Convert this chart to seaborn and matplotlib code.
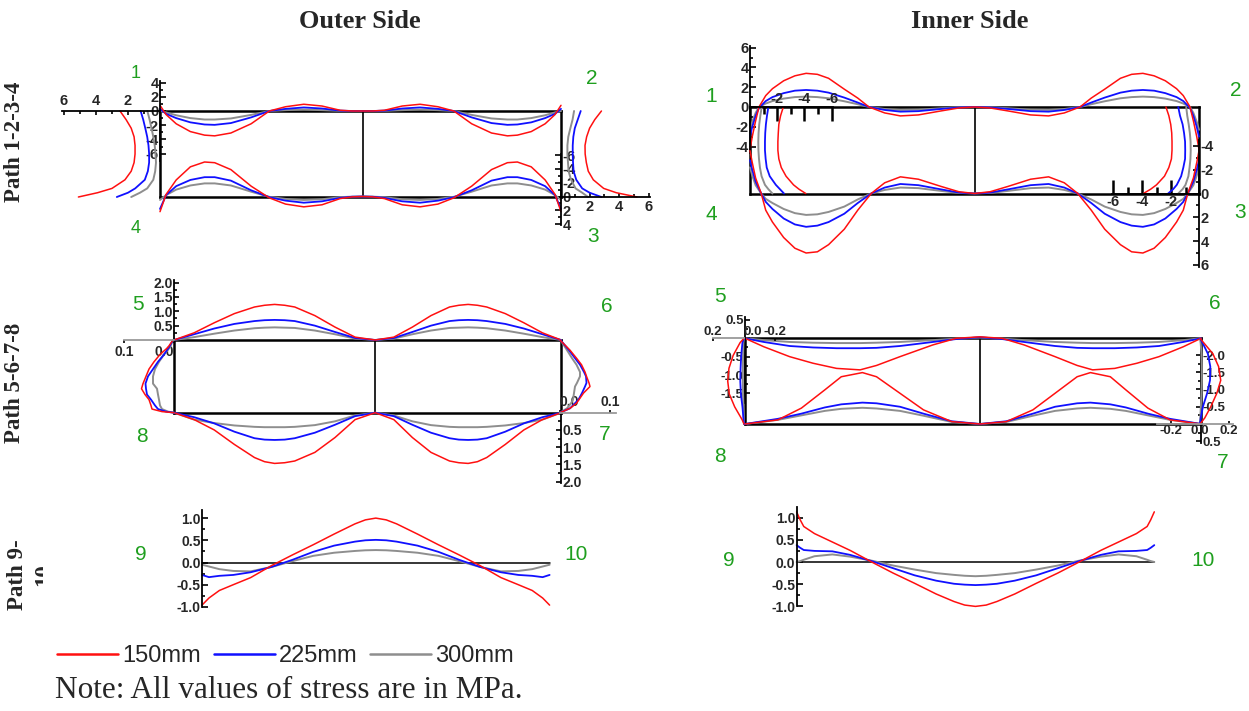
import numpy as np
import matplotlib
matplotlib.use("Agg")
import matplotlib.pyplot as plt
from matplotlib.lines import Line2D
import seaborn as sns

sns.set_style("white")
plt.rcParams["font.family"] = ["Liberation Sans", "DejaVu Sans"]
plt.rcParams["font.weight"] = "bold"

W, H = 1249, 711

LOADS = ["150mm", "225mm", "300mm"]
COLORS = {"150mm": "#ff1010", "225mm": "#1010ff", "300mm": "#8e8e8e"}
WIDTHS = {"150mm": 1.1, "225mm": 1.3, "300mm": 1.4}

# ---------------- Outer side, path 1-2-3-4 (MPa) ----------------
# long sides: positions from the corner to mid-span (0..1); each long side is symmetric
A_LONG_H = [0, .03, .08, .15, .22, .27, .35, .45, .54, .62, .71, .80, .89, .95, 1.0]
A_TOP = {
    "150mm": [0.8, -0.5, -1.8, -2.9, -3.4, -3.5, -3.1, -1.8, 0.0, 0.6, 0.95, 0.7, 0.1, 0.0, 0.0],
    "225mm": [0.3, -0.4, -1.0, -1.6, -1.9, -1.95, -1.7, -0.9, 0.0, 0.3, 0.5, 0.35, 0.05, 0.0, 0.0],
    "300mm": [0.0, -0.2, -0.6, -1.0, -1.2, -1.2, -1.05, -0.55, 0.0, 0.12, 0.2, 0.12, 0.02, 0.0, 0.0],
}
A_BOT = {
    "150mm": [2.2, -0.3, -2.4, -4.3, -5.0, -4.9, -3.9, -1.5, 0.2, 1.1, 1.5, 1.2, 0.3, 0.05, 0.0],
    "225mm": [1.8, -0.2, -1.5, -2.4, -2.8, -2.8, -2.3, -0.9, 0.1, 0.6, 0.9, 0.7, 0.2, 0.03, 0.0],
    "300mm": [0.5, -0.2, -1.0, -1.6, -1.9, -1.9, -1.6, -0.7, 0.05, 0.35, 0.5, 0.4, 0.1, 0.02, 0.0],
}
# short sides: positions from the upper corner to the lower corner
A_SHORT_P = [0, .1, .2, .3, .4, .5, .6, .7, .8, .9, .95, 1.0]
A_LEFT = {
    "150mm": [2.5, 2.12, 1.8, 1.62, 1.56, 1.56, 1.62, 1.8, 2.19, 3.0, 3.9, 5.1],
    "225mm": [1.21, 1.05, 0.92, 0.8, 0.72, 0.68, 0.68, 0.76, 0.95, 1.55, 2.0, 2.7],
    "300mm": [0.79, 0.65, 0.53, 0.42, 0.33, 0.28, 0.25, 0.3, 0.42, 0.8, 1.25, 1.8],
}
A_RIGHT = {
    "150mm": [2.8, 2.35, 2.0, 1.8, 1.69, 1.7, 1.78, 1.91, 2.25, 2.95, 3.8, 5.2],
    "225mm": [1.4, 1.2, 1.0, 0.9, 0.86, 0.86, 0.88, 0.92, 1.1, 1.5, 2.0, 2.8],
    "300mm": [0.95, 0.85, 0.7, 0.56, 0.5, 0.5, 0.54, 0.58, 0.75, 1.05, 1.5, 1.9],
}

# ---------------- Inner side, path 1-2-3-4 (MPa) ----------------
B_LONG_H = [0, .01, .025, .04, .07, .1, .15, .2, .25, .3, .35, .42, .48, .53, .6, .67, .75, .85, .93, 1.0]
B_TOP = {
    "150mm": [-4.3, -3.0, -1.4, 0.0, 1.15, 1.85, 2.65, 3.15, 3.4, 3.3, 2.9, 1.8, 0.9, 0.0, -0.6, -0.9, -0.8, -0.4, -0.1, 0.0],
    "225mm": [-3.0, -2.0, -0.9, -0.1, 0.6, 1.0, 1.4, 1.65, 1.72, 1.65, 1.45, 0.95, 0.45, 0.0, -0.3, -0.47, -0.42, -0.2, -0.05, 0.0],
    "300mm": [-2.3, -1.5, -0.6, 0.0, 0.35, 0.6, 0.85, 1.0, 1.05, 1.0, 0.88, 0.58, 0.28, 0.0, -0.2, -0.3, -0.27, -0.13, -0.03, 0.0],
}
B_BOT_H = [0, .01, .025, .05, .07, .1, .15, .2, .25, .3, .35, .42, .48, .54, .6, .67, .75, .85, .93, 1.0]
B_BOT = {
    "150mm": [-3.6, -2.6, -1.3, 0.0, 1.4, 2.4, 3.7, 4.6, 5.0, 4.9, 4.3, 3.0, 1.4, 0.0, -0.9, -1.4, -1.2, -0.6, -0.15, 0.0],
    "225mm": [-2.8, -2.0, -1.0, 0.0, 0.7, 1.3, 2.1, 2.6, 2.8, 2.7, 2.4, 1.7, 0.8, 0.0, -0.5, -0.8, -0.7, -0.35, -0.08, 0.0],
    "300mm": [-2.2, -1.5, -0.7, 0.0, 0.45, 0.8, 1.3, 1.65, 1.8, 1.75, 1.55, 1.1, 0.5, 0.0, -0.3, -0.5, -0.45, -0.22, -0.05, 0.0],
}
B_SHORT_P = [0, .1, .2, .3, .4, .5, .6, .7, .8, .9, .95, 1.0]
B_LEFT = {
    "150mm": [-2.45, -2.25, -2.12, -2.08, -2.05, -2.05, -2.12, -2.3, -2.65, -3.2, -3.6, -4.1],
    "225mm": [-1.35, -1.25, -1.17, -1.12, -1.1, -1.1, -1.15, -1.23, -1.45, -1.9, -2.2, -2.5],
    "300mm": [-0.86, -0.76, -0.68, -0.63, -0.61, -0.62, -0.66, -0.73, -0.85, -1.1, -1.35, -1.65],
}
B_RIGHT = {
    "150mm": [-2.35, -2.15, -2.02, -1.95, -1.93, -1.93, -1.97, -2.15, -2.45, -3.0, -3.4, -3.9],
    "225mm": [-1.5, -1.38, -1.2, -1.1, -1.03, -1.02, -1.03, -1.15, -1.3, -1.6, -1.85, -2.2],
    "300mm": [-0.95, -0.88, -0.78, -0.7, -0.65, -0.64, -0.66, -0.72, -0.8, -1.0, -1.2, -1.5],
}

# ---------------- Outer side, path 5-6-7-8 (MPa) ----------------
C_LONG_H = [0, .1, .2, .3, .4, .45, .5, .55, .6, .7, .8, .9, 1.0]
C_TOP = {
    "150mm": [0.0, 0.25, 0.6, 0.92, 1.15, 1.21, 1.24, 1.21, 1.15, 0.85, 0.45, 0.1, 0.0],
    "225mm": [0.0, 0.2, 0.4, 0.56, 0.66, 0.69, 0.7, 0.69, 0.66, 0.5, 0.28, 0.07, 0.0],
    "300mm": [0.0, 0.1, 0.22, 0.33, 0.41, 0.43, 0.44, 0.43, 0.42, 0.33, 0.2, 0.05, 0.0],
}
C_BOT = {
    "150mm": [0.0, 0.2, 0.5, 0.92, 1.3, 1.42, 1.47, 1.45, 1.4, 1.15, 0.72, 0.2, 0.0],
    "225mm": [0.0, 0.13, 0.31, 0.55, 0.74, 0.78, 0.79, 0.78, 0.74, 0.58, 0.35, 0.1, 0.0],
    "300mm": [0.0, 0.2, 0.3, 0.37, 0.41, 0.42, 0.42, 0.42, 0.41, 0.36, 0.25, 0.08, 0.0],
}
C_LEFT_P = [0, .1, .2, .3, .4, .5, .6, .67, .75, .82, .9, .95, .985, 1.0]
C_LEFT = {
    "150mm": [0.002, 0.012, 0.028, 0.04, 0.05, 0.056, 0.062, 0.065, 0.058, 0.05, 0.046, 0.044, 0.024, 0.0],
    "225mm": [0.002, 0.01, 0.02, 0.032, 0.042, 0.052, 0.057, 0.056, 0.054, 0.046, 0.038, 0.032, 0.016, 0.0],
    "300mm": [0.002, 0.008, 0.02, 0.03, 0.038, 0.042, 0.042, 0.034, 0.032, 0.03, 0.028, 0.024, 0.012, 0.0],
}
C_RIGHT_P = [0, .14, .25, .34, .44, .5, .59, .64, .73, .82, .87, .94, 1.0]
C_RIGHT = {
    "150mm": [0.0, 0.02, 0.033, 0.043, 0.05, 0.053, 0.058, 0.06, 0.047, 0.038, 0.033, 0.02, 0.0],
    "225mm": [0.001, 0.018, 0.03, 0.04, 0.048, 0.052, 0.053, 0.05, 0.044, 0.037, 0.03, 0.02, 0.0],
    "300mm": [0.001, 0.014, 0.024, 0.033, 0.04, 0.04, 0.034, 0.03, 0.028, 0.026, 0.022, 0.014, 0.0],
}

# ---------------- Inner side, path 5-6-7-8 (MPa) ----------------
D_TOP_H = [0, .08, .19, .29, .39, .49, .56, .66, .8, .9, 1.0]
D_TOP = {
    "150mm": [0.0, -0.23, -0.5, -0.68, -0.82, -0.86, -0.74, -0.5, -0.18, 0.0, 0.04],
    "225mm": [0.0, -0.1, -0.21, -0.25, -0.27, -0.27, -0.26, -0.21, -0.1, -0.02, 0.03],
    "300mm": [0.0, -0.05, -0.1, -0.12, -0.13, -0.13, -0.12, -0.1, -0.05, -0.01, 0.02],
}
D_BOT_H = [0, .14, .24, .34, .41, .5, .56, .66, .76, .88, 1.0]
D_BOT = {
    "150mm": [0.0, -0.12, -0.46, -0.99, -1.37, -1.49, -1.37, -0.89, -0.41, -0.07, 0.0],
    "225mm": [0.0, -0.15, -0.3, -0.48, -0.57, -0.62, -0.6, -0.5, -0.3, -0.08, 0.0],
    "300mm": [0.0, -0.12, -0.25, -0.38, -0.44, -0.47, -0.45, -0.38, -0.24, -0.06, 0.0],
}
D_LEFT_P = [0, .05, .2, .35, .5, .65, .8, .95, 1.0]
D_LEFT = {
    "150mm": [0.0, 0.025, 0.07, 0.097, 0.105, 0.095, 0.06, 0.012, 0.0],
    "225mm": [0.0, 0.01, 0.018, 0.022, 0.024, 0.02, 0.01, 0.003, 0.0],
    "300mm": [0.0, 0.004, 0.006, 0.007, 0.007, 0.006, 0.004, 0.001, 0.0],
}
D_RIGHT_P = [0, .06, .18, .33, .49, .64, .8, .93, 1.0]
D_RIGHT = {
    "150mm": [0.0, 0.03, 0.09, 0.13, 0.145, 0.118, 0.075, 0.033, 0.0],
    "225mm": [0.0, 0.02, 0.055, 0.072, 0.07, 0.05, 0.02, 0.005, 0.0],
    "300mm": [0.0, 0.005, 0.01, 0.012, 0.012, 0.01, 0.006, 0.002, 0.0],
}

# ---------------- Path 9-10 (MPa): end -> mid-span, symmetric ----------------
E_H = [0, .04, .1, .18, .28, .4, .52, .64, .76, .88, .94, 1.0]
E_OUTER = {
    "150mm": [-0.96, -0.8, -0.63, -0.5, -0.34, -0.07, 0.17, 0.4, 0.64, 0.87, 0.96, 1.0],
    "225mm": [-0.28, -0.33, -0.3, -0.28, -0.22, -0.1, 0.06, 0.24, 0.38, 0.47, 0.5, 0.51],
    "300mm": [-0.05, -0.09, -0.15, -0.19, -0.2, -0.1, 0.03, 0.15, 0.22, 0.26, 0.275, 0.28],
}
F_H = [0, .02, .04, .1, .2, .3, .42, .54, .66, .78, .88, .94, 1.0]
F_INNER = {
    "150mm": [1.13, 0.95, 0.8, 0.64, 0.45, 0.26, 0.0, -0.25, -0.48, -0.72, -0.89, -0.97, -1.0],
    "225mm": [0.38, 0.32, 0.27, 0.25, 0.24, 0.16, 0.02, -0.14, -0.3, -0.42, -0.49, -0.51, -0.52],
    "300mm": [0.0, 0.02, 0.05, 0.13, 0.17, 0.12, 0.03, -0.08, -0.17, -0.25, -0.29, -0.31, -0.32],
}

fig = plt.figure(figsize=(W / 100, H / 100), dpi=100)
fig.patch.set_facecolor("white")


def box(x0, y0, x1, y1):
    """Transparent axes placed by pixel box (origin top-left)."""
    ax = fig.add_axes([x0 / W, 1 - y1 / H, (x1 - x0) / W, (y1 - y0) / H])
    ax.patch.set_visible(False)
    for s in ax.spines.values():
        s.set_visible(False)
    ax.set_xticks([])
    ax.set_yticks([])
    ax.grid(False)
    return ax


def frame(x0, y0, x1, y1, mid):
    ax = box(x0, y0, x1, y1)
    ax.set_xlim(0, 1)
    ax.set_ylim(0, 1)
    for s in ax.spines.values():
        s.set_visible(True)
        s.set_linewidth(1.8)
        s.set_color("black")
    ax.axvline(mid, color="black", lw=1.2)
    return ax


def hside(xl, xr, zero, k, lo, hi, up=True):
    """Axes for a horizontal edge: x = position along edge, y = stress."""
    if up:
        ax = box(xl, zero - hi * k, xr, zero - lo * k)
        ax.set_ylim(lo, hi)
    else:
        ax = box(xl, zero + lo * k, xr, zero + hi * k)
        ax.set_ylim(hi, lo)
    ax.set_xlim(0, 1)
    return ax


def vside(yt, yb, zero, k, lo, hi, right=True):
    """Axes for a vertical edge: x = stress, y = position along edge (top = 0)."""
    if right:
        ax = box(zero + lo * k, yt, zero + hi * k, yb)
        ax.set_xlim(lo, hi)
    else:
        ax = box(zero - hi * k, yt, zero - lo * k, yb)
        ax.set_xlim(hi, lo)
    ax.set_ylim(1, 0)
    return ax


def stress_axis(ax, side, ticks, labels, minor=(), bounds=None, color="black",
                size=9, length=(4, 2.5), width=1.2, pad=2):
    sp = ax.spines[side]
    sp.set_visible(True)
    sp.set_color(color)
    sp.set_linewidth(1.3)
    if bounds is not None:
        sp.set_bounds(*bounds)
    axis = ax.yaxis if side in ("left", "right") else ax.xaxis
    axis.set_ticks_position(side)
    axis.set_ticks(ticks)
    axis.set_ticklabels(labels)
    axis.set_ticks(list(minor), minor=True)
    name = "y" if side in ("left", "right") else "x"
    ax.tick_params(axis=name, which="major", direction="in", length=length[0],
                   width=width, pad=pad, color="black", labelsize=size)
    ax.tick_params(axis=name, which="minor", direction="in", length=length[1],
                   width=width, color="black")
    return axis


def mirror(h, v, c):
    h = np.asarray(h, float)
    v = np.asarray(v, float)
    t = np.concatenate([c * h, 1 - (1 - c) * h[::-1]])
    return t, np.concatenate([v, v[::-1]])


def trace(ax, x, y, load):
    sns.lineplot(x=x, y=y, ax=ax, color=COLORS[load], lw=WIDTHS[load],
                 sort=False, estimator=None, legend=False)
    for ln in ax.lines:
        ln.set_clip_on(False)


def long_edge(ax, h, data, c):
    for load in LOADS[::-1]:
        t, v = mirror(h, data[load], c)
        trace(ax, t, v, load)


def short_edge(ax, p, data):
    for load in LOADS[::-1]:
        trace(ax, data[load], p, load)


GREEN = "#1f9f1f"


def corner_label(x, y, s, size=15):
    fig.text(x / W, 1 - y / H, s, color=GREEN, fontsize=size, fontweight="normal",
             ha="center", va="center")


# ======================= Outer side, path 1-2-3-4 =======================
frame(160, 111, 561, 197, 0.505)
ax = hside(160, 561, 111, 7.1, -7.2, 4.3, up=True)
stress_axis(ax, "left", [4, 2, 0, -2, -4, -6], ["4", "2", "0", "-2", "-4", "-6"],
            minor=[3, 1, -1, -3, -5], bounds=(-7, 4.2), size=10.5, pad=1)
long_edge(ax, A_LONG_H, A_TOP, 0.505)
ax = hside(160, 561, 196.5, 6.9, -6.5, 4.5, up=False)
stress_axis(ax, "right", [-6, -4, -2, 0, 2, 4], ["-6", "-4", "-2", "0", "2", "4"],
            minor=[-5, -3, -1, 1, 3], bounds=(-6.2, 4.2), size=10.5, pad=1)
long_edge(ax, A_LONG_H, A_BOT, 0.505)
ax = vside(111, 197, 160, 16, 0, 6.2, right=False)
stress_axis(ax, "top", [2, 4, 6], ["2", "4", "6"], minor=[1, 3, 5], bounds=(0, 6.1),
            size=10.5, length=(3, 2))
short_edge(ax, A_SHORT_P, A_LEFT)
ax = vside(111, 197, 560, 14.8, 0, 6.2, right=True)
stress_axis(ax, "bottom", [2, 4, 6], ["2", "4", "6"], minor=[1, 3, 5], bounds=(0, 6.1),
            size=10.5, length=(3, 2))
short_edge(ax, A_SHORT_P, A_RIGHT)
corner_label(136, 74, "1", 13)
corner_label(592, 78, "2")
corner_label(136, 228, "4", 13)
corner_label(593, 236, "3")

# ======================= Inner side, path 1-2-3-4 =======================
frame(750, 107, 1199, 193.5, 0.5)
ax = hside(750, 1199, 107, 9.9, -4.8, 6.3, up=True)
stress_axis(ax, "left", [6, 4, 2, 0, -2, -4], ["6", "4", "2", "0", "-2", "-4"],
            minor=[5, 3, 1, -1, -3], bounds=(-4.6, 6.2), size=10.5, pad=1)
long_edge(ax, B_LONG_H, B_TOP, 0.5)
ax = hside(750, 1199, 193.5, 11.9, -4.8, 6.3, up=False)
stress_axis(ax, "right", [-4, -2, 0, 2, 4, 6], ["-4", "-2", "0", "2", "4", "6"],
            minor=[-3, -1, 1, 3, 5], bounds=(-4.5, 6.2), size=10.5, pad=1)
long_edge(ax, B_BOT_H, B_BOT, 0.5)
ax = vside(107, 193.5, 750, 13.6, -6.2, 0, right=False)
stress_axis(ax, "top", [-2, -4, -6], ["-2", "-4", "-6"], minor=[-1, -3, -5],
            bounds=(-6.1, 0), size=10.5, length=(10, 5), width=1.8, pad=1)
short_edge(ax, B_SHORT_P, B_LEFT)
ax = vside(107, 193.5, 1200, 14.5, -6.2, 0, right=True)
stress_axis(ax, "bottom", [-6, -4, -2], ["-6", "-4", "-2"], minor=[-5, -3, -1],
            bounds=(-6.1, 0), size=10.5, length=(10, 5), width=1.8, pad=1)
short_edge(ax, B_SHORT_P, B_RIGHT)
corner_label(711, 97, "1")
corner_label(1236, 90, "2")
corner_label(711, 215, "4")
corner_label(1240, 213, "3")

# ======================= Outer side, path 5-6-7-8 =======================
frame(174, 340, 561, 412.7, 0.52)
ax = hside(174, 561, 340, 28.7, -0.2, 2.1, up=True)
stress_axis(ax, "left", [0, 0.5, 1.0, 1.5, 2.0], ["", "0.5", "1.0", "1.5", "2.0"],
            minor=[0.25, 0.75, 1.25, 1.75], bounds=(0, 2.1), size=10, length=(3.5, 2), pad=1)
long_edge(ax, C_LONG_H, C_TOP, 0.52)
ax = hside(174, 561, 412.7, 34.5, -0.2, 2.1, up=False)
stress_axis(ax, "right", [0.5, 1.0, 1.5, 2.0], ["0.5", "1.0", "1.5", "2.0"],
            minor=[0.25, 0.75, 1.25, 1.75], bounds=(0, 2.05), size=10, length=(3.5, 2), pad=1)
long_edge(ax, C_LONG_H, C_BOT, 0.52)
ax = vside(340, 412.7, 174, 500, 0, 0.105, right=False)
stress_axis(ax, "top", [0.1, 0.0], ["0.1", "0.0"], bounds=(0, 0.1), color="#9a9a9a",
            size=10, length=(2, 1), pad=-14)
ax.xaxis.get_ticklabels()[1].set_ha("right")
short_edge(ax, C_LEFT_P, C_LEFT)
ax = vside(340, 412.7, 560, 500, 0, 0.112, right=True)
stress_axis(ax, "bottom", [0.0, 0.1], ["0.0", "0.1"], bounds=(0, 0.112), color="#9a9a9a",
            size=10, length=(2, 1), pad=-13)
ax.xaxis.get_ticklabels()[0].set_ha("left")
short_edge(ax, C_RIGHT_P, C_RIGHT)
corner_label(138, 305, "5")
corner_label(607, 307, "6")
corner_label(142, 437, "8")
corner_label(605, 435, "7")

# ======================= Inner side, path 5-6-7-8 =======================
frame(745, 338.3, 1201, 424, 0.515)
ax = hside(745, 1201, 338.3, 36.7, -1.8, 0.6, up=True)
stress_axis(ax, "left", [0.5, 0.0, -0.5, -1.0, -1.5], ["0.5", "", "-0.5", "-1.0", "-1.5"],
            minor=[0.25, -0.25, -0.75, -1.25], bounds=(-1.75, 0.58), size=9.5,
            length=(3.5, 2), pad=1)
long_edge(ax, D_TOP_H, D_TOP, 0.515)
ax = hside(745, 1201, 424, 34.5, -2.2, 0.6, up=False)
stress_axis(ax, "right", [-2.0, -1.5, -1.0, -0.5, 0.0, 0.5],
            ["-2.0", "-1.5", "-1.0", "-0.5", "", "0.5"],
            minor=[-1.75, -1.25, -0.75, -0.25, 0.25], bounds=(-2.15, 0.55), size=9.5,
            length=(3.5, 2), pad=1)
long_edge(ax, D_BOT_H, D_BOT, 0.515)
ax = vside(338.3, 424, 744, 155, -0.2, 0.2, right=False)
stress_axis(ax, "top", [0.2, 0.0, -0.2], ["0.2", "0.0", "-0.2"], bounds=(0, 0.2),
            color="#9a9a9a", size=9.5, length=(2, 1), pad=0)
ax.xaxis.get_ticklabels()[1].set_ha("left")
short_edge(ax, D_LEFT_P, D_LEFT)
ax = vside(338.3, 424, 1200, 143, -0.3, 0.24, right=True)
stress_axis(ax, "bottom", [-0.2, 0.0, 0.2], ["-0.2", "0.0", "0.2"], bounds=(-0.3, 0.23),
            color="#9a9a9a", size=9.5, length=(2, 1), pad=1)
short_edge(ax, D_RIGHT_P, D_RIGHT)
corner_label(720, 297, "5")
corner_label(1215, 304, "6")
corner_label(720, 457, "8")
corner_label(1223, 462, "7")

# ======================= Path 9-10 =======================
for (xl, xr, zero, top_b, hh, data) in [(202, 549.6, 562.5, 1.18, E_H, E_OUTER),
                                          (796.6, 1154.3, 562.0, 1.25, F_H, F_INNER)]:
    ax = hside(xl, xr, zero, 44.4, -1.05, 1.28, up=True)
    stress_axis(ax, "left", [1.0, 0.5, 0.0, -0.5, -1.0], ["1.0", "0.5", "0.0", "-0.5", "-1.0"],
                minor=[0.75, 0.25, -0.25, -0.75], bounds=(-1.0, top_b), size=10,
                length=(4, 2.5), pad=1)
    ax.axhline(0, color="black", lw=1.1)
    long_edge(ax, hh, data, 0.5)
corner_label(141, 555, "9")
corner_label(576, 555, "10")
corner_label(729, 561, "9")
corner_label(1203, 561, "10")

# ======================= titles, row labels, legend, note =======================
SERIF = ["Liberation Serif", "DejaVu Serif"]
fig.text(360 / W, 1 - 22 / H, "Outer Side", fontsize=19, fontweight="bold",
         family=SERIF, ha="center", va="center")
fig.text(970 / W, 1 - 22 / H, "Inner Side", fontsize=19, fontweight="bold",
         family=SERIF, ha="center", va="center")
fig.text(15 / W, 1 - 142 / H, "Path 1-2-3-4", fontsize=16.5, fontweight="bold",
         family=SERIF, rotation=90, ha="center", va="center")
fig.text(15 / W, 1 - 383 / H, "Path 5-6-7-8", fontsize=16.5, fontweight="bold",
         family=SERIF, rotation=90, ha="center", va="center")
lab_ax = box(0, 480, 43, 660)
lab_ax.text(30.5 / 43, 0.475, "Path 9-\n10", fontsize=16.5, fontweight="bold", family=SERIF,
            rotation=90, ha="center", va="center", multialignment="center",
            linespacing=1.3, transform=lab_ax.transAxes, clip_on=True)

handles = [Line2D([], [], color=COLORS[k], lw=1.8) for k in LOADS]
fig.legend(handles, LOADS, loc="center left", bbox_to_anchor=(57 / W, 1 - 656 / H),
           ncol=3, frameon=False, prop={"size": 17, "weight": "normal"},
           handlelength=2.6, handletextpad=0.15, columnspacing=0.55,
           borderaxespad=0, borderpad=0)
fig.text(55 / W, 1 - 691 / H, "Note: All values of stress are in MPa.", fontsize=22.5,
         fontweight="normal", family=SERIF, ha="left", va="center")

fig.savefig("out.png", dpi=100, facecolor="white")
